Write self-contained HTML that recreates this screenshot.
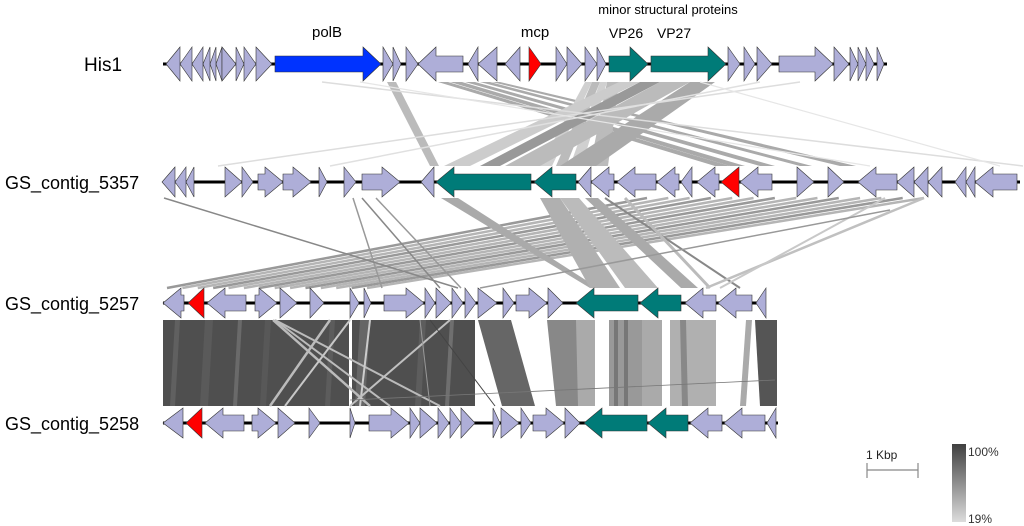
<!DOCTYPE html>
<html><head><meta charset="utf-8"><style>
html,body{margin:0;padding:0;background:#fff;}
svg{display:block;font-family:"Liberation Sans",sans-serif;}
</style></head><body>
<svg id="s" width="1024" height="526" viewBox="0 0 1024 526" xmlns="http://www.w3.org/2000/svg">
<defs><linearGradient id="g" x1="0" y1="0" x2="0" y2="1"><stop offset="0" stop-color="#404040"/><stop offset="1" stop-color="#dcdcdc"/></linearGradient></defs>
<g id="links"></g>
<g id="tracks"></g>
<text x="84" y="71" font-size="19">His1</text>
<text x="5" y="189" font-size="18">GS_contig_5357</text>
<text x="5" y="310" font-size="18">GS_contig_5257</text>
<text x="5" y="430" font-size="18">GS_contig_5258</text>
<text x="327" y="37" font-size="15" text-anchor="middle">polB</text>
<text x="535" y="37" font-size="15" text-anchor="middle">mcp</text>
<text x="668" y="14" font-size="13" text-anchor="middle">minor structural proteins</text>
<text x="626" y="38" font-size="14" text-anchor="middle">VP26</text>
<text x="674" y="38" font-size="14" text-anchor="middle">VP27</text>
<text x="866" y="459" font-size="12" fill="#222">1 Kbp</text>
<path d="M867 470H918M867 463V478M918 463V478" stroke="#888" stroke-width="1.2" fill="none"/>
<rect x="952" y="444" width="14" height="78" fill="url(#g)"/>
<text x="968" y="456" font-size="12" fill="#333">100%</text>
<text x="968" y="523" font-size="12" fill="#333">19%</text>
</svg>
<script>
var NS="http://www.w3.org/2000/svg";
function el(p,t,a){var e=document.createElementNS(NS,t);for(var k in a)e.setAttribute(k,a[k]);p.appendChild(e);return e;}
var L=document.getElementById('links'),T=document.getElementById('tracks');
var P='#aeaed8',TE='#007b78',R='#ff0000',B='#0033ff';
function gene(x1,x2,d,y,c,H){H=H||15;var len=x2-x1,b=8,hl=Math.min(len,18),pts;
 if(len<=20){pts=d>0?[[x1,y-H],[x2,y],[x1,y+H]]:[[x2,y-H],[x1,y],[x2,y+H]];}
 else if(d>0){var h=x2-hl;pts=[[x1,y-b],[h,y-b],[h,y-H],[x2,y],[h,y+H],[h,y+b],[x1,y+b]];}
 else{var h=x1+hl;pts=[[x2,y-b],[h,y-b],[h,y-H],[x1,y],[h,y+H],[h,y+b],[x2,y+b]];}
 el(T,'polygon',{points:pts.map(function(p){return p.join(',')}).join(' '),fill:c,stroke:'#333','stroke-width':0.6});}
function track(y,a,b2,gs,H){el(T,'line',{x1:a,y1:y,x2:b2,y2:y,stroke:'#000','stroke-width':3});gs.forEach(function(g){gene(g[0],g[1],g[2],y,g[3]||P,H);});}
track(64,163,887,[[166,180,-1],[180,192,-1],[192,203,-1],[203,210,-1],[210,216,-1],[216,222,-1],[222,236,1],[236,244,1],[244,256,1],[256,272,1],[275,381,1,B],[383,393,1],[393,401,1],[406,418,1],[418,463,-1],[468,478,-1],[478,497,-1],[505,520,-1],[529,541,1,R],[556,567,1],[567,582,1],[585,597,1],[597,606,1],[609,648,1,TE],[651,726,1,TE],[728,740,1],[744,755,1],[757,772,1],[779,833,1],[834,849,1],[850,858,1],[858,866,1],[866,874,1],[877,884,1]],17);
track(182,164,1020,[[162,175,-1],[175,186,-1],[186,194,-1],[225,242,1],[242,253,1],[258,283,1],[283,311,1],[319,327,1],[344,356,1],[362,400,1],[421,434,-1],[436,531,-1,TE],[534,576,-1,TE],[578,591,-1],[591,614,-1],[617,656,-1],[657,679,-1],[681,692,-1],[697,719,-1],[721,739,-1,R],[740,772,-1],[797,814,1],[828,844,1],[858,897,-1],[897,914,-1],[914,928,-1],[928,942,-1],[955,966,-1],[966,975,-1],[975,1017,-1]]);
track(303,163,766,[[163,184,-1],[188,204,-1,R],[207,246,-1],[255,277,1],[280,297,1],[310,324,1],[350,359,1],[364,371,1],[384,424,1],[425,435,1],[436,451,1],[452,463,1],[465,476,1],[478,497,1],[503,514,1],[516,547,1],[548,563,1],[576,638,-1,TE],[640,681,-1,TE],[685,716,-1],[718,752,-1],[756,766,-1]]);
track(423,163,778,[[163,183,-1],[186,202,-1,R],[205,244,-1],[252,276,1],[278,295,1],[309,320,1],[350,355,1],[369,409,1],[410,420,1],[420,437,1],[438,449,1],[450,461,1],[461,475,1],[493,500,1],[501,519,1],[521,531,1],[533,564,1],[565,580,1],[584,647,-1,TE],[648,688,-1,TE],[690,722,-1],[724,765,-1],[767,776,-1]]);
function band(a1,a2,y1,b1,b2,y2,c,o){el(L,'polygon',{points:a1+','+y1+' '+a2+','+y1+' '+b2+','+y2+' '+b1+','+y2,fill:c,opacity:o||1});}
function ln(a,y1,b,y2,c,w){el(L,'line',{x1:a,y1:y1,x2:b,y2:y2,stroke:c,'stroke-width':w||1.5});}
// His1 -> 5357
band(387,396,82,430,439,166,'#bbb');
[[438,448,715,730],[450,462,730,745],[465,475,760,775],[480,490,800,812],[492,500,840,856]].forEach(function(q){band(q[0],q[1],82,q[2],q[3],166,'#aaa');});
[[585,592,540,552],[592,600,556,566],[600,607,570,582],[607,619,590,608]].forEach(function(q,i){band(q[0],q[1],82,q[2],q[3],166,i%2?'#bbb':'#d0d0d0');});
[[619,640,444,470,'#ccc'],[640,660,480,500,'#999'],[660,690,505,540,'#bbb'],[690,715,560,596,'#aaa']].forEach(function(q){band(q[0],q[1],82,q[2],q[3],166,q[4]);});
ln(322,82,1023,166,'#ddd',1.5);ln(800,82,218,166,'#ddd',1.5);ln(760,82,330,166,'#e0e0e0',1.5);ln(700,82,1000,166,'#e6e6e6',1.2);ln(360,82,870,166,'#e6e6e6',1.2);
// 5357 -> 5257
for(var i=0;i<14;i++){var t=i/13;ln(647+t*277,198,167+t*200,288,i%3?'#b5b5b5':'#999',2.5);}
band(441,458,198,590,598,288,'#aaa');band(540,560,198,590,620,288,'#b0b0b0');band(560,579,198,625,658,288,'#bbb');
band(585,598,198,681,698,288,'#aaa');ln(605,198,740,288,'#888',2);ln(625,198,710,288,'#bbb',3);
ln(353,198,382,288,'#999',1.5);ln(362,198,440,288,'#888',1.5);ln(376,198,461,288,'#999',1.5);
ln(164,198,458,288,'#888',1.5);ln(924,198,706,288,'#c0c0c0',2.5);ln(885,198,720,288,'#c8c8c8',2);ln(480,288,890,210,'#999',1.5);
// 5257 -> 5258
band(163,475,320,163,475,406,'#4f4f4f');
[[175,5,'#606060'],[205,8,'#5a5a5a'],[238,4,'#6a6a6a'],[265,6,'#585858'],[330,5,'#5c5c5c'],[360,10,'#666'],[420,6,'#5d5d5d'],[450,4,'#6f6f6f']].forEach(function(q){band(q[0],q[0]+q[1],320,q[0]-5,q[0]-5+q[1],406,q[2]);});
el(L,'rect',{x:349,y:320,width:3,height:86,fill:'#fff'});
band(478,511,320,502,535,406,'#666');band(547,580,320,556,582,406,'#888');band(576,595,320,578,595,406,'#aaa');
band(609,642,320,609,642,406,'#999');band(614,618,320,614,618,406,'#777');band(624,628,320,624,628,406,'#777');
band(642,662,320,642,662,406,'#aaa');band(670,716,320,670,716,406,'#b0b0b0');band(680,686,320,682,688,406,'#888');
band(755,777,320,760,777,406,'#555');band(746,752,320,740,746,406,'#aaa');
ln(273,320,370,406,'#bbb',2.5);ln(275,320,440,406,'#bbb',2);ln(330,320,270,406,'#bbb',2.5);ln(275,320,390,406,'#bbb',2);
ln(350,320,285,406,'#c8c8c8',2);ln(370,320,360,406,'#ccc',2);ln(450,320,350,406,'#c0c0c0',2);
ln(420,320,430,406,'#999',1);ln(430,320,495,406,'#444',1);ln(350,400,775,380,'#777',0.8);
</script>
</body></html>
